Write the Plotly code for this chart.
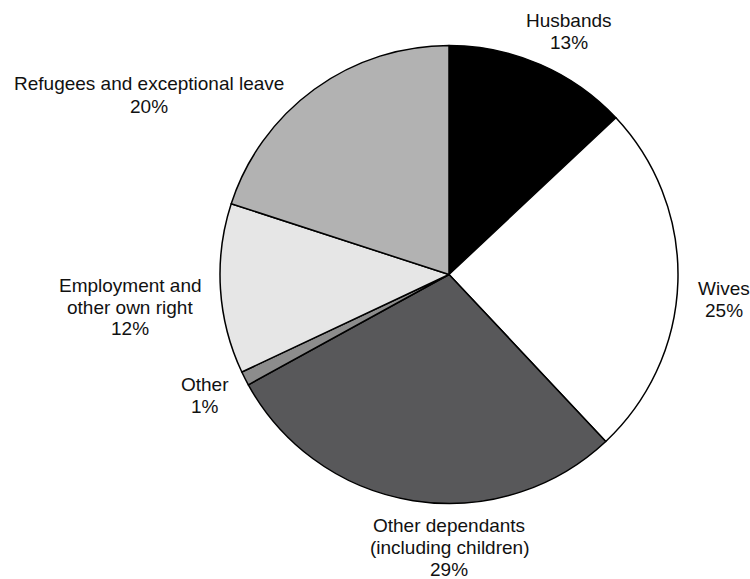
import plotly.graph_objects as go

# Shares of settlement grants by category (per cent)
categories = ["Husbands", "Wives", "Other dependants<br>(including children)", "Other",
              "Employment and<br>other own right", "Refugees and exceptional leave"]
shares = [13, 25, 29, 1, 12, 20]
slice_colors = ["#000000", "#ffffff", "#58585a", "#8c8c8c", "#e6e6e6", "#b2b2b2"]

W, H = 750, 579
cx, cy, r = 449, 274.5, 229  # pie centre and radius in pixels
line_h = 22                  # label line spacing in pixels

# label block centre positions in pixels, one per category
label_pos = [(569, 31), (724, 299), (449, 547), (205, 395), (130, 307), (149, 95)]

fig = go.Figure(go.Pie(
    labels=categories,
    values=shares,
    sort=False,
    direction="clockwise",
    rotation=0,
    textinfo="none",
    hoverinfo="label+percent",
    marker=dict(colors=slice_colors, line=dict(color="#000000", width=1.5)),
    domain=dict(x=[(cx - r) / W, (cx + r) / W], y=[1 - (cy + r) / H, 1 - (cy - r) / H]),
    showlegend=False,
))

# each label line is its own annotation so the spacing can be set tightly
for name, val, (px, py) in zip(categories, shares, label_pos):
    lines = name.split("<br>") + [f"{val}%"]
    top = py - line_h * (len(lines) - 1) / 2
    for i, txt in enumerate(lines):
        fig.add_annotation(
            text=txt,
            x=px / W, y=1 - (top + i * line_h) / H, xref="paper", yref="paper",
            xanchor="center", yanchor="middle", showarrow=False, align="center",
            font=dict(family="Liberation Sans, Arial, sans-serif", size=19, color="#111111"),
        )

fig.update_layout(
    width=W, height=H,
    margin=dict(l=0, r=0, t=0, b=0),
    paper_bgcolor="#ffffff", plot_bgcolor="#ffffff",
)

fig.write_html("out.html")
